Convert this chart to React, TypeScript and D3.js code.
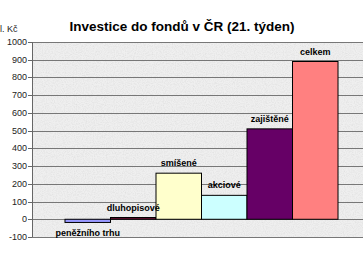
import React from "react";
import * as d3 from "d3";

const categories = ["peněžního trhu", "dluhopisové", "smíšené", "akciové", "zajištěné", "celkem"];
const values = [-18, 10, 260, 135, 510, 890];
const colors = ["#9999FF", "#6E0F33", "#FFFFCC", "#CCFFFF", "#660066", "#FF8080"];
const yTicks = [-100, 0, 100, 200, 300, 400, 500, 600, 700, 800, 900, 1000];
const title = "Investice do fondů v ČR (21. týden)";
const yUnit = "l. Kč";

const W = 363;
const H = 268;
const plotLeft = 32;
const plotRight = 371;
const plotTop = 42;
const plotBottom = 237;

export default function App() {
  const y = d3.scaleLinear().domain([-100, 1000]).range([plotBottom, plotTop]);
  const x = d3
    .scaleBand<string>()
    .domain(categories)
    .range([plotLeft, plotRight])
    .paddingInner(0)
    .paddingOuter(0.725);
  const font = "'Liberation Sans', Arial, sans-serif";
  return (
    <svg
      width={W}
      height={H}
      style={{ position: "absolute", left: 0, top: 0, background: "#fff" }}
      fontFamily={font}
    >
      <defs>
        <filter id="granite" x="0" y="0" width="100%" height="100%">
          <feTurbulence type="fractalNoise" baseFrequency="0.9" numOctaves="2" seed="3" result="n" />
          <feColorMatrix
            in="n"
            type="matrix"
            values="0 0 0 0 0.45  0 0 0 0 0.45  0 0 0 0 0.45  0 0 -1.2 0 0.75"
          />
        </filter>
        <clipPath id="plotclip">
          <rect x={plotLeft} y={plotTop} width={plotRight - plotLeft} height={plotBottom - plotTop} />
        </clipPath>
      </defs>
      <rect x={plotLeft} y={plotTop} width={plotRight - plotLeft} height={plotBottom - plotTop} fill="#EFEFEF" />
      <rect
        x={plotLeft}
        y={plotTop}
        width={plotRight - plotLeft}
        height={plotBottom - plotTop}
        filter="url(#granite)"
        opacity={0.35}
      />
      {yTicks.map((t) => (
        <line
          key={"g" + t}
          x1={plotLeft}
          x2={plotRight}
          y1={Math.round(y(t)) + 0.5}
          y2={Math.round(y(t)) + 0.5}
          stroke="#777"
          strokeWidth={1}
        />
      ))}
      <line x1={plotLeft + 0.5} x2={plotLeft + 0.5} y1={plotTop} y2={plotBottom} stroke="#666" />
      {yTicks.map((t) => (
        <g key={"t" + t}>
          <line
            x1={plotLeft - 4}
            x2={plotLeft}
            y1={Math.round(y(t)) + 0.5}
            y2={Math.round(y(t)) + 0.5}
            stroke="#666"
          />
          <text x={plotLeft - 5} y={y(t) + 3} textAnchor="end" fontSize={9} fill="#222">
            {t}
          </text>
        </g>
      ))}
      <g clipPath="url(#plotclip)">
        {categories.map((c, i) => {
          const v = values[i];
          const y0 = y(0);
          const y1 = y(v);
          return (
            <rect
              key={c}
              x={x(c)!}
              y={Math.min(y0, y1)}
              width={x.bandwidth()}
              height={Math.max(Math.abs(y1 - y0), 1)}
              fill={colors[i]}
              stroke="#000"
              strokeWidth={1}
            />
          );
        })}
      </g>
      {categories.map((c, i) => {
        const v = values[i];
        const cx = x(c)! + x.bandwidth() / 2;
        const ty = v >= 0 ? y(v) - 7 : y(v) + 14;
        return (
          <text key={"l" + c} x={cx} y={ty} textAnchor="middle" fontSize={9} fontWeight="bold" fill="#000">
            {c}
          </text>
        );
      })}
      <text x={0} y={32} fontSize={9} fill="#222">
        {yUnit}
      </text>
      <text x={182} y={31} textAnchor="middle" fontSize={13.5} fontWeight="bold" fill="#000">
        {title}
      </text>
    </svg>
  );
}
